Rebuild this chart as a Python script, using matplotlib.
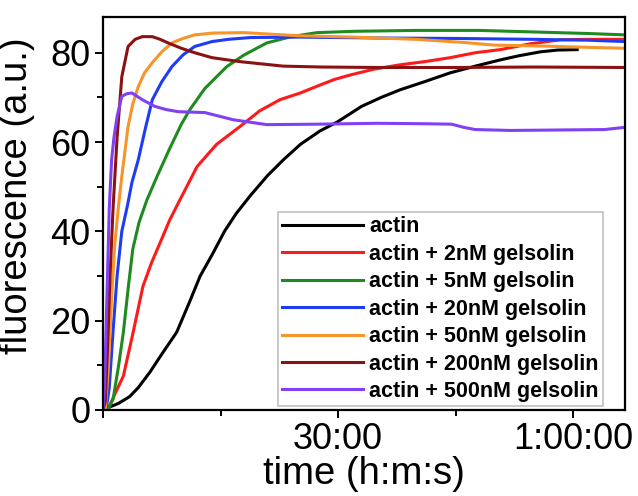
import matplotlib
matplotlib.use("Agg")
import matplotlib.pyplot as plt
from matplotlib.ticker import FixedLocator, MultipleLocator

plt.rcParams["font.family"] = ["Liberation Sans", "DejaVu Sans"]

# Polymerisation time courses (time in minutes, fluorescence in a.u.)
t_actin = [0, 0.3, 0.9, 2, 3.4, 4.5, 6, 7.5, 9.4, 11, 12.4, 14, 15.5, 17, 18.8,
           21, 23, 25.2, 27.7, 29.9, 33, 35.5, 37.9, 41, 44.3, 47.5, 50.7, 53,
           55.8, 58, 60.5]
f_actin = [0, 0, 0.7, 1.5, 3, 5, 8.5, 12.5, 17.4, 24, 30, 35, 40, 44, 48,
           52.5, 56, 59.5, 62.5, 64.5, 68, 70, 71.7, 73.5, 75.5, 77, 78.4, 79.3,
           80.2, 80.6, 80.7]

t_g2 = [0, 0.6, 1.5, 2.6, 3.8, 5.1, 6.2, 7.3, 8.5, 9.8, 12, 14.5, 17.5, 20,
        22.6, 25.2, 27.3, 29.5, 31.5, 34.5, 37.9, 41, 44.3, 47.5, 50.7, 54.5,
        58.4, 62, 66.6]
f_g2 = [0, 0, 3.5, 7.6, 17, 27.7, 33, 37.5, 42.5, 47, 54.5, 59.5, 63.5, 67,
        69.5, 71, 72.5, 74, 75, 76.3, 77.3, 78, 78.9, 80, 80.7, 82, 82.9, 83, 83]

t_g5 = [0, 0.6, 1.3, 2, 2.6, 3.2, 3.8, 4.6, 5.6, 6.9, 8.5, 10, 11.1, 13, 15.8,
        18, 20.9, 24, 27.3, 32, 40, 48, 56, 62, 66.6]
f_g5 = [0, 0, 2.5, 10, 17.4, 27, 36, 42, 47, 52.3, 58.5, 64, 67.3, 72, 76.9,
        79.5, 82.2, 83.6, 84.5, 84.8, 85, 85, 84.6, 84.3, 84]

t_g20 = [0, 0.4, 0.8, 1.3, 1.8, 2.4, 3.1, 3.7, 4.5, 5.4, 6.3, 7.5, 8.8, 10.2,
         11.7, 13.9, 16, 18.8, 25, 35, 45, 55, 62, 66.6]
f_g20 = [0, 0, 5, 18, 30, 40, 45.6, 51, 56, 63, 69.5, 73.5, 76.9, 79.5, 81.4,
         82.5, 83, 83.4, 83.5, 83.3, 83.2, 83, 82.8, 82.5]

t_g50 = [0, 0.3, 0.7, 1.1, 1.5, 2, 2.4, 3.2, 3.8, 4.5, 5.3, 6.3, 7.5, 8.8, 10.2,
         11.7, 14, 18, 25, 32, 40, 46, 50, 56, 62, 66.6]
f_g50 = [0, 0, 10, 25, 37, 46, 52.3, 63.5, 68.5, 72.4, 75.5, 77.8, 80.2, 82.2,
         83.2, 84, 84.4, 84.5, 83.8, 83.5, 83, 82.3, 81.7, 81.5, 81.2, 81]

t_g200 = [0, 0.3, 0.6, 0.9, 1.3, 1.8, 2.4, 3.2, 4.1, 5, 6.3, 7.3, 8.3, 10, 11.7,
          13.9, 17.5, 23, 28, 35, 45, 55, 66.6]
f_g200 = [0, 2, 15, 30, 45.6, 61, 74.6, 81.4, 83, 83.6, 83.6, 83, 82.2, 81, 80,
          78.9, 78, 77, 76.8, 76.7, 76.7, 76.8, 76.7]

t_g500 = [0, 0.2, 0.5, 0.8, 1.1, 1.4, 1.8, 2.4, 3.0, 3.7, 5, 6.6, 8, 9.6, 13,
          16.6, 20.9, 27.3, 35, 41, 44.5, 46, 47.5, 52, 58, 64, 66.6]
f_g500 = [0, 5, 25, 45, 56, 61, 65.7, 70.2, 70.8, 71, 69.5, 68, 67.3, 66.8, 66.6,
          65, 63.9, 64, 64.2, 64.1, 64, 63.3, 62.8, 62.6, 62.7, 62.8, 63.3]

series_labels = ["actin", "actin + 2nM gelsolin", "actin + 5nM gelsolin",
                 "actin + 20nM gelsolin", "actin + 50nM gelsolin",
                 "actin + 200nM gelsolin", "actin + 500nM gelsolin"]
series_colors = ["#000000", "#ff1a1a", "#1f8a1f", "#1f3cf5", "#f7942a",
                 "#8b1212", "#8040f5"]

xtick_pos = [0, 30, 60]
xtick_labels = ["", "30:00", "1:00:00"]

fig = plt.figure(figsize=(6.38, 4.96), dpi=100)
ax = fig.add_axes([0.1614, 0.1734, 0.8182, 0.7923])

times = [t_actin, t_g2, t_g5, t_g20, t_g50, t_g200, t_g500]
values = [f_actin, f_g2, f_g5, f_g20, f_g50, f_g200, f_g500]
for t, f, lab, col in zip(times, values, series_labels, series_colors):
    ax.plot(t, f, color=col, lw=2.2, label=lab, solid_joinstyle="round")

ax.set_xlim(0, 66.6)
ax.set_ylim(0, 88)

ax.xaxis.set_major_locator(FixedLocator(xtick_pos))
ax.set_xticklabels(xtick_labels)
ax.xaxis.set_minor_locator(MultipleLocator(15))
ax.yaxis.set_major_locator(MultipleLocator(20))
ax.yaxis.set_minor_locator(MultipleLocator(10))

ax.tick_params(which="both", direction="out", width=1.4, labelsize=26,
               top=False, right=False, pad=3)
ax.tick_params(which="major", length=6)
ax.tick_params(which="minor", length=4)
for sp in ax.spines.values():
    sp.set_linewidth(1.6)

ax.set_xlabel("time (h:m:s)", fontsize=27.5, labelpad=-1)
ax.set_ylabel("fluorescence (a.u.)", fontsize=27.5)
ax.yaxis.set_label_coords(-0.13, 0.545)

leg = ax.legend(loc="upper right", bbox_to_anchor=(0.958, 0.504),
                borderaxespad=0, frameon=True, fancybox=False,
                prop={"weight": "bold", "size": 15.5}, labelspacing=0.3,
                handlelength=3.75, handletextpad=0.3, borderpad=0.2)
leg.get_frame().set_edgecolor("#b0b0b0")
leg.get_frame().set_linewidth(1.2)
for line in leg.get_lines():
    line.set_linewidth(2.2)

fig.savefig("out.png", dpi=100)
